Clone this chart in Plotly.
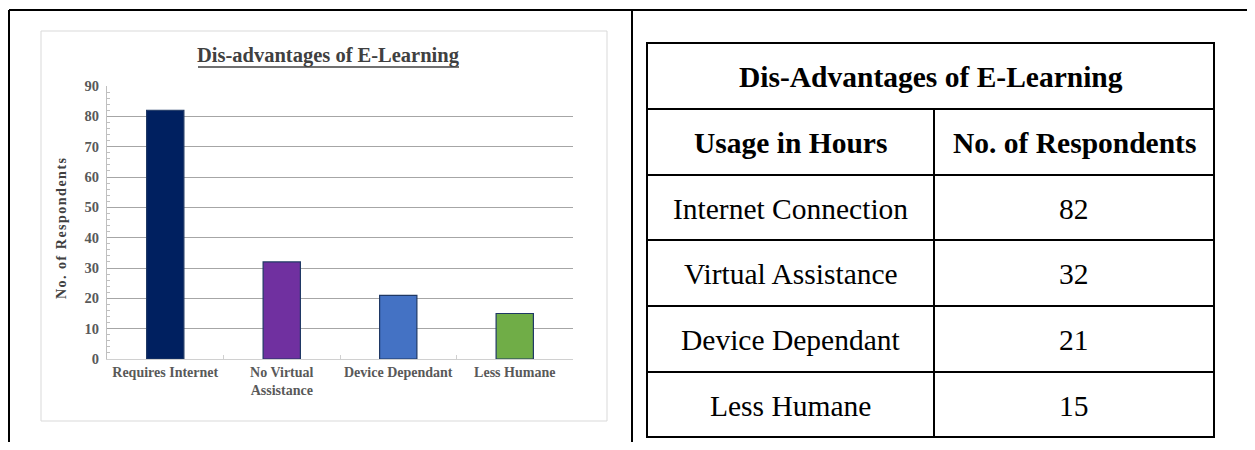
import plotly.graph_objects as go

# ---------------- data ----------------
chart_title = "Dis-advantages of E-Learning"
categories = ["Requires Internet", "No Virtual<br>Assistance", "Device Dependant", "Less Humane"]
respondents = [82, 32, 21, 15]
bar_colors = ["#002060", "#7030A0", "#4472C4", "#70AD47"]
y_title = "No. of Respondents"

table_title = "Dis-Advantages of E-Learning"
table_header = ["Usage in Hours", "No. of Respondents"]
table_rows = ["Internet Connection", "Virtual Assistance", "Device Dependant", "Less Humane"]
table_values = [82, 32, 21, 15]

# ---------------- geometry helpers (screen px -> paper) ----------------
OFF = 8                      # page body margin
W, H = 1255 - 2 * OFF, 450 - 2 * OFF
def fx(px):
    return (px - OFF) / W
def fy(py):
    return 1 - (py - OFF) / H

SERIF = "Liberation Serif"

fig = go.Figure()
fig.add_trace(go.Bar(
    x=categories, y=respondents, width=0.32,
    marker=dict(color=bar_colors, line=dict(color="#1F3864", width=1.2)),
    hoverinfo="x+y", showlegend=False,
))

shapes = []
annotations = []

# outer frame
shapes.append(dict(type="line", xref="paper", yref="paper", x0=fx(9), x1=fx(1260), y0=fy(10), y1=fy(10),
                   line=dict(color="black", width=2)))
shapes.append(dict(type="line", xref="paper", yref="paper", x0=fx(9), x1=fx(9), y0=fy(10), y1=fy(460),
                   line=dict(color="black", width=2)))
shapes.append(dict(type="line", xref="paper", yref="paper", x0=fx(632), x1=fx(632), y0=fy(10), y1=fy(460),
                   line=dict(color="black", width=2)))

# chart box
shapes.append(dict(type="rect", xref="paper", yref="paper", x0=fx(41), x1=fx(607), y0=fy(31), y1=fy(421),
                   line=dict(color="#d9d9d9", width=1), layer="below"))

# chart title + underline
annotations.append(dict(text="<b>%s</b>" % chart_title, xref="paper", yref="paper", x=fx(328.5), y=fy(56),
                        xanchor="center", yanchor="middle", showarrow=False,
                        font=dict(family=SERIF, size=20.5, color="#404040")))
shapes.append(dict(type="line", xref="paper", yref="paper", x0=fx(198), x1=fx(459), y0=fy(67), y1=fy(67),
                   line=dict(color="#404040", width=1.5)))

# y-axis title
annotations.append(dict(text='<b><span style="letter-spacing:1.5px">%s</span></b>' % y_title,
                        xref="paper", yref="paper", x=fx(61), y=fy(228),
                        xanchor="center", yanchor="middle", textangle=-90, showarrow=False,
                        font=dict(family=SERIF, size=14, color="#404040")))

# ---------------- table ----------------
tl, tr, tmid = 647, 1214, 934
row_lines = [43, 109, 175, 240, 306, 372, 437]
black = dict(color="black", width=2)
shapes.append(dict(type="rect", xref="paper", yref="paper", x0=fx(tl), x1=fx(tr), y0=fy(row_lines[0]),
                   y1=fy(row_lines[-1]), line=black))
for ry in row_lines[1:-1]:
    shapes.append(dict(type="line", xref="paper", yref="paper", x0=fx(tl), x1=fx(tr), y0=fy(ry), y1=fy(ry), line=black))
shapes.append(dict(type="line", xref="paper", yref="paper", x0=fx(tmid), x1=fx(tmid), y0=fy(row_lines[1]),
                   y1=fy(row_lines[-1]), line=black))

c1 = (tl + tmid) / 2
c2 = (tmid + tr) / 2
def row_center(i):
    return (row_lines[i] + row_lines[i + 1]) / 2 + 1

TSIZE = 29.5
annotations.append(dict(text="<b>%s</b>" % table_title, xref="paper", yref="paper", x=fx((tl + tr) / 2),
                        y=fy(row_center(0)), xanchor="center", yanchor="middle", showarrow=False,
                        font=dict(family=SERIF, size=TSIZE, color="black")))
for j, htxt in enumerate(table_header):
    annotations.append(dict(text="<b>%s</b>" % htxt, xref="paper", yref="paper", x=fx([c1, c2][j]),
                            y=fy(row_center(1)), xanchor="center", yanchor="middle", showarrow=False,
                            font=dict(family=SERIF, size=TSIZE, color="black")))
for i, (lab, val) in enumerate(zip(table_rows, table_values)):
    yc = fy(row_center(i + 2))
    annotations.append(dict(text=lab, xref="paper", yref="paper", x=fx(c1), y=yc, xanchor="center",
                            yanchor="middle", showarrow=False, font=dict(family=SERIF, size=TSIZE, color="black")))
    annotations.append(dict(text=str(val), xref="paper", yref="paper", x=fx(c2), y=yc, xanchor="center",
                            yanchor="middle", showarrow=False, font=dict(family=SERIF, size=TSIZE, color="black")))

fig.update_layout(
    width=W, height=H,
    margin=dict(l=0, r=0, t=0, b=0, pad=0, autoexpand=False),
    paper_bgcolor="white", plot_bgcolor="white",
    shapes=shapes, annotations=annotations,
    xaxis=dict(domain=[fx(107), fx(573)], showgrid=False, showline=True, linecolor="#d0d0d0", linewidth=1,
               ticks="inside", tickson="boundaries", ticklen=4, tickcolor="#d0d0d0", tickangle=0,
               automargin=False,
               tickfont=dict(family=SERIF, size=14, color="#595959", weight="bold"), fixedrange=True),
    yaxis=dict(domain=[fy(359), fy(86)], range=[0, 90], dtick=10, showgrid=True, gridcolor="#a6a6a6", gridwidth=1,
               showline=True, linecolor="#bfbfbf", linewidth=1, ticks="inside", ticklen=5, tickcolor="#a6a6a6",
               minor=dict(dtick=2, ticks="inside", ticklen=3, tickcolor="#bfbfbf", showgrid=False),
               zeroline=False, ticklabelstandoff=4, automargin=False,
               tickfont=dict(family=SERIF, size=14.5, color="#595959", weight="bold"), fixedrange=True),
)

fig.write_html("out.html")
